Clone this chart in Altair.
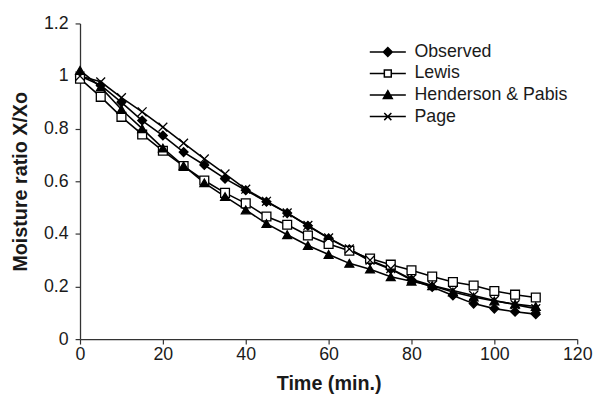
import altair as alt
import pandas as pd

time_min = [0, 5, 10, 15, 20, 25, 30, 35, 40, 45, 50, 55, 60, 65, 70, 75, 80, 85, 90, 95, 100, 105, 110]
observed = [1.00, 0.965, 0.90, 0.831, 0.774, 0.711, 0.662, 0.610, 0.566, 0.522, 0.479, 0.431, 0.383, 0.341,
            0.297, 0.266, 0.225, 0.198, 0.166, 0.135, 0.116, 0.104, 0.095]
lewis = [0.99, 0.921, 0.845, 0.778, 0.716, 0.658, 0.603, 0.556, 0.516, 0.466, 0.435, 0.394, 0.362, 0.336,
         0.306, 0.283, 0.262, 0.238, 0.217, 0.204, 0.183, 0.169, 0.158]
henderson = [1.022, 0.958, 0.873, 0.800, 0.726, 0.659, 0.594, 0.542, 0.491, 0.439, 0.397, 0.356, 0.322, 0.288,
             0.266, 0.237, 0.220, 0.203, 0.179, 0.160, 0.145, 0.133, 0.124]
page = [1.00, 0.978, 0.918, 0.864, 0.806, 0.745, 0.685, 0.628, 0.570, 0.524, 0.480, 0.432, 0.385, 0.343,
        0.300, 0.268, 0.228, 0.204, 0.185, 0.166, 0.147, 0.131, 0.116]

series_names = ["Observed", "Lewis", "Henderson & Pabis", "Page"]
x_ticks = [0, 20, 40, 60, 80, 100, 120]
y_ticks = [0, 0.2, 0.4, 0.6, 0.8, 1.0, 1.2]

point_shapes = ["diamond", "square", "triangle-up", "M-1,-1L1,1M-1,1L1,-1"]
point_fills = ["black", "white", "black", "black"]
legend_strokes = ["black", "black", "black", "black"]
legend_shapes = [
    "M-2.03,0L2.03,0M0,-0.5L0.5,0L0,0.5L-0.5,0Z",
    "M-2.03,0L-0.39,0M0.39,0L2.03,0M-0.39,-0.39L0.39,-0.39L0.39,0.39L-0.39,0.39Z",
    "M-2.03,0L2.03,0M0,-0.5L0.5,0.38L-0.5,0.38Z",
    "M-2.03,0L2.03,0M-0.4,-0.4L0.4,0.4M-0.4,0.4L0.4,-0.4",
]

rows = []
for name, vals in zip(series_names, [observed, lewis, henderson, page]):
    for t, v in zip(time_min, vals):
        rows.append({"t": t, "mr": v, "series": name})
df = pd.DataFrame(rows)
legend_df = pd.DataFrame({"series": series_names})

FONT = "Liberation Sans"

x_enc = alt.X("t:Q", scale=alt.Scale(domain=[0, 120], nice=False, zero=True),
              axis=alt.Axis(values=x_ticks, title="Time (min.)", grid=False, tickSize=5,
                            labelPadding=2, titlePadding=10, labelFlush=False))
y_enc = alt.Y("mr:Q", scale=alt.Scale(domain=[0, 1.2], nice=False),
              axis=alt.Axis(values=y_ticks, format="~g", title="Moisture ratio X/Xo", grid=False,
                            tickSize=5, labelPadding=7, titlePadding=13, labelFlush=False))

lines = alt.Chart(df).mark_line(color="black", strokeWidth=1.6).encode(
    x=x_enc, y=y_enc, detail="series:N"
)

points = alt.Chart(df).mark_point(filled=True, stroke="black", strokeWidth=1.3, opacity=1, size=80).encode(
    x=x_enc, y=y_enc,
    shape=alt.Shape("series:N", scale=alt.Scale(domain=series_names, range=point_shapes), legend=None),
    fill=alt.Fill("series:N", scale=alt.Scale(domain=series_names, range=point_fills), legend=None),
)

leg = alt.Legend(title=None, orient="none", legendX=302, legendY=19, padding=0, rowPadding=2.8,
                 labelOffset=17, labelFontSize=18, labelFont=FONT, labelColor="#1a1a1a",
                 symbolSize=324, symbolStrokeWidth=1.5, symbolStrokeColor="black",
                 symbolOpacity=1, labelLimit=400)

legend_layer = alt.Chart(legend_df).mark_point(filled=True, stroke="black", opacity=0).encode(
    shape=alt.Shape("series:N", scale=alt.Scale(domain=series_names, range=legend_shapes), legend=leg),
    fill=alt.Fill("series:N", scale=alt.Scale(domain=series_names, range=point_fills), legend=leg),
    stroke=alt.Stroke("series:N", scale=alt.Scale(domain=series_names, range=legend_strokes), legend=leg),
)

chart = alt.layer(lines, points, legend_layer).resolve_scale(
    shape="independent", fill="independent", stroke="independent"
).properties(
    width=504, height=320,
    autosize=alt.AutoSizeParams(type="none"),
    padding={"left": 73, "top": 13, "right": 16, "bottom": 55},
    background="white",
).configure_view(stroke=None).configure_axis(
    labelFont=FONT, titleFont=FONT, labelFontSize=18, titleFontSize=20, titleFontWeight="bold",
    labelColor="#1a1a1a", titleColor="#1a1a1a", domainColor="#333333", tickColor="#333333",
    domainWidth=1.3, tickWidth=1.2,
)

chart.save("out.html", embed_options={"renderer": "svg", "actions": False})
